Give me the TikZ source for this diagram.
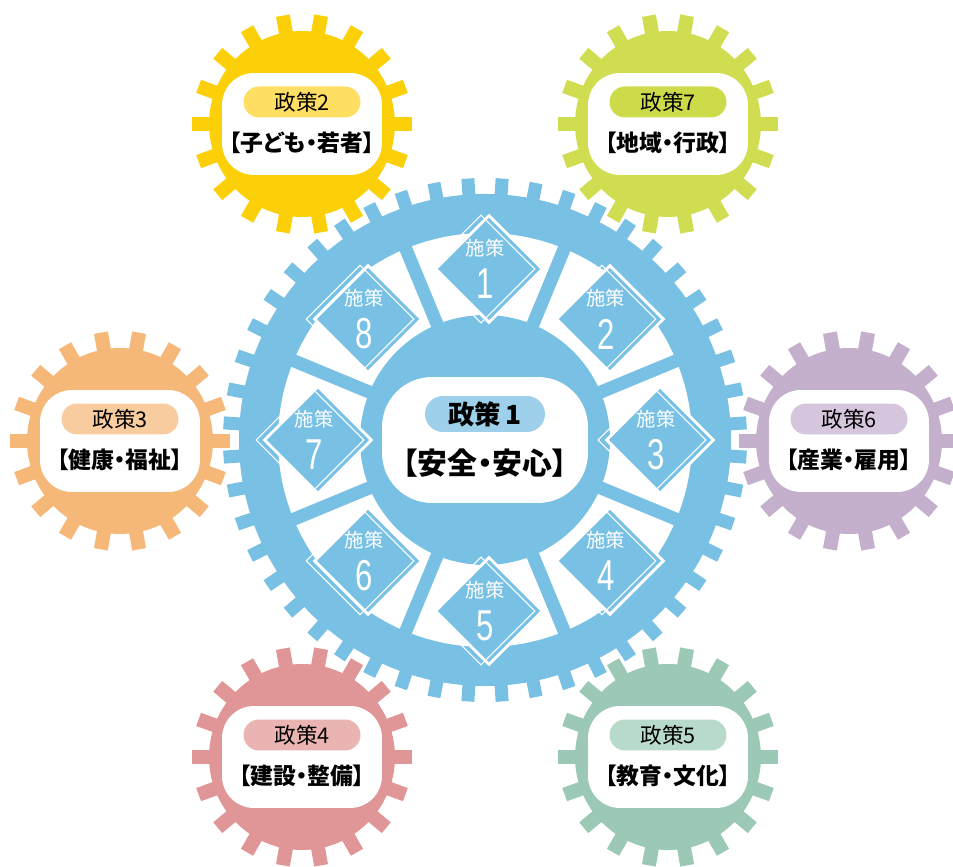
\documentclass[tikz,border=0pt]{standalone}
\usepackage{fontspec}
\usepackage{graphicx}
\newfontfamily\jp{Noto Sans CJK JP}[RawFeature=+palt]
\newfontfamily\numfont{Liberation Sans}
\usetikzlibrary{shapes.geometric,calc}
\definecolor{gearblue}{RGB}{120,193,228}
\definecolor{pillblue}{RGB}{158,208,235}
\definecolor{gyellow}{RGB}{252,208,8}
\definecolor{pyellow}{RGB}{255,222,100}
\definecolor{glime}{RGB}{209,221,80}
\definecolor{plime}{RGB}{205,219,74}
\definecolor{gorange}{RGB}{245,184,120}
\definecolor{porange}{RGB}{248,204,158}
\definecolor{gpurple}{RGB}{196,175,204}
\definecolor{ppurple}{RGB}{214,198,221}
\definecolor{gpink}{RGB}{224,150,150}
\definecolor{ppink}{RGB}{234,180,178}
\definecolor{ggreen}{RGB}{155,201,181}
\definecolor{pgreen}{RGB}{184,218,203}
\begin{document}
\begin{tikzpicture}[x=0.02cm,y=0.02cm,
  gearbox/.style={fill=white,rounded corners=0.64cm,minimum width=3.2cm,minimum height=2.04cm,inner sep=0},
  pill/.style={rounded corners=0.31cm,minimum width=2.34cm,minimum height=0.62cm,inner sep=0,font=\jp\fontsize{12.3}{13}\selectfont},
  title/.style={inner sep=0,font=\jp\bfseries\fontsize{13}{14}\selectfont},
  sakubox/.style={diamond,draw=white,line width=1.7pt,fill=gearblue,minimum width=2.16cm,minimum height=2.16cm,inner sep=0},
  sakuline/.style={diamond,draw=white,line width=0.6pt,minimum width=2.16cm,minimum height=2.16cm,inner sep=0},
  sakutext/.style={inner sep=0,text=white,font=\jp\fontsize{11}{12}\selectfont},
  sakunum/.style={inner sep=0,text=white,font=\numfont\fontsize{24.6}{25}\selectfont}]
  \useasboundingbox (0,0) rectangle (953,866);
  % small gears
  \foreach \gx/\gy/\gc/\pc/\n/\t in {302/742/gyellow/pyellow/2/{【子ども・若者】},
      668/742/glime/plime/7/{【地域・行政】},
      120/425/gorange/porange/3/{【健康・福祉】},
      849/425/gpurple/ppurple/6/{【産業・雇用】},
      302/109/gpink/ppink/4/{【建設・整備】},
      668/109/ggreen/pgreen/5/{【教育・文化】}}{
    \begin{scope}[shift={(\gx,\gy)}]
      \foreach \a in {0,20,...,340}
        \fill[\gc,rotate=\a] (80,-7) rectangle (110,7);
      \fill[\gc] (0,0) circle (93);
    \end{scope}
    \node[gearbox] (g\n) at (\gx,\gy) {};
    \node[pill,fill=\pc] (p\n) at ($(g\n)+(0,22)$) {政策\n};
    \node[title] (t\n) at ($(g\n)+(0,-19)$) {\t};
  }
  % big gear
  \begin{scope}[shift={(485,426)}]
    % white halo
    \foreach \a in {3.75,11.25,...,360}
      \filldraw[white,line width=2.5pt,rotate=\a] (230,-6.5) rectangle (262,6.5);
    \fill[white] (0,0) circle (249);
    % teeth
    \foreach \a in {3.75,11.25,...,360}
      \fill[gearblue,rotate=\a] (230,-6.5) rectangle (262,6.5);
    \fill[gearblue] (0,0) circle (246);
    % white ring
    \fill[white] (0,0) circle (207);
    \fill[gearblue] (0,0) circle (125);
    % spokes
    \foreach \a in {22.5,67.5,...,360}
      \fill[gearblue,rotate=\a] (120,-6.5) rectangle (212,6.5);
  \end{scope}
  % diamonds
  \foreach \k in {1,...,8}{
    \pgfmathsetmacro\ang{90-45*(\k-1)}
    \coordinate (c\k) at ($(485,426)+(\ang:171)$);
    \node[sakubox] (s\k) at ($(c\k)+(4,0)$) {};
    \node[sakuline] (l\k) at ($(c\k)+(-4,0)$) {};
    \node[sakutext] (st\k) at ($(c\k)+(0,21)$) {施策};
    \node[sakunum] (sn\k) at ($(c\k)+(0,-15)$) {\scalebox{0.72}[1]{\k}};
  }
  % centre
  \node[fill=white,rounded corners=1cm,minimum width=4.12cm,minimum height=2.52cm] (ctr) at (485,426) {};
  \node[pill,fill=pillblue,minimum width=2.4cm,minimum height=0.72cm,rounded corners=0.36cm,
    font=\jp\bfseries\fontsize{15}{16}\selectfont] (p1) at ($(ctr)+(0,26)$) {政策\,1};
  \node[title,font=\jp\bfseries\fontsize{17}{18}\selectfont] (t1) at ($(ctr)+(0,-23)$) {【安全・安心】};
\end{tikzpicture}
\end{document}
